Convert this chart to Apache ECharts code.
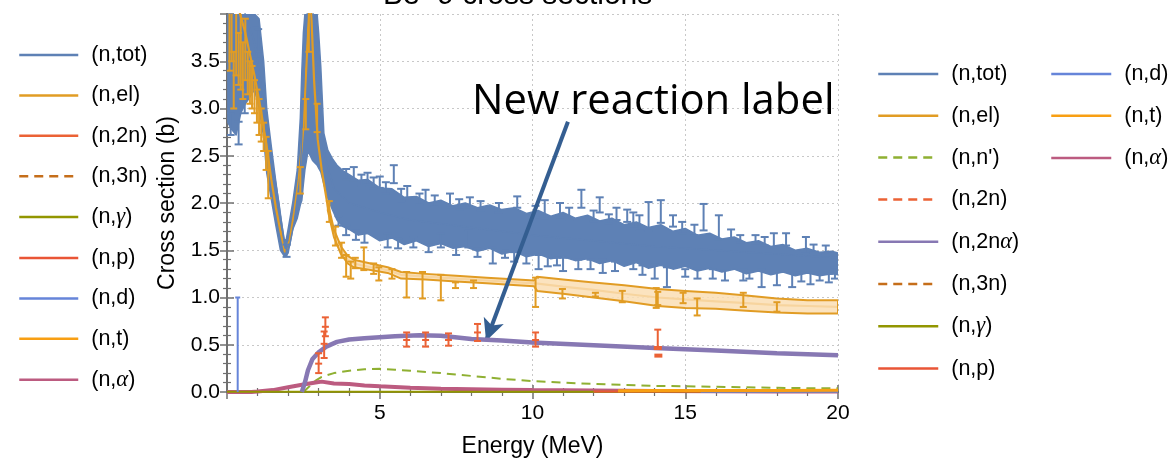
<!DOCTYPE html>
<html><head><meta charset="utf-8">
<script src="https://cdn.jsdelivr.net/npm/echarts@6/dist/echarts.min.js"></script>
<style>html,body{margin:0;padding:0;background:#fff}#c{width:1174px;height:459px}</style>
</head><body><div id="c"></div>
<script>
// ---------------- data ----------------
const xTicks = [0, 5, 10, 15, 20];
const yTicks = [0, 0.5, 1, 1.5, 2, 2.5, 3, 3.5];

// (n,tot) dense experimental cloud envelope
const totBandX  = [0.03,0.15,0.3,0.45,0.6,0.75,0.9,1.05,1.2,1.3,1.45,1.6,1.75,1.87,1.93,2.0,2.15,2.3,2.4,2.45,2.5,2.55,2.65,2.8,2.95,3.0,3.07,3.17,3.3,3.45,3.6,3.8,4.0,4.3,4.6,5.0,5.4,5.8,6.2,6.6,7.0,7.4,7.8,8.2,8.6,9.0,9.4,9.8,10.2,10.6,11.0,11.4,11.8,12.2,12.6,13.0,13.4,13.8,14.2,14.6,15.0,15.4,15.8,16.2,16.6,17.0,17.4,17.8,18.2,18.6,19.0,19.4,19.8,20.0];
const totBandLo = [2.85,2.78,2.72,2.95,3.05,3.12,3.2,3.0,2.7,2.32,2.04,1.76,1.5,1.44,1.44,1.47,1.72,1.84,1.98,2.03,2.2,2.35,2.55,2.45,2.4,2.37,2.33,2.2,2.05,1.93,1.82,1.75,1.72,1.66,1.68,1.6,1.63,1.56,1.6,1.54,1.57,1.52,1.54,1.49,1.52,1.46,1.49,1.43,1.46,1.41,1.43,1.39,1.41,1.36,1.39,1.33,1.37,1.31,1.34,1.3,1.33,1.28,1.31,1.27,1.3,1.25,1.28,1.24,1.27,1.23,1.26,1.23,1.25,1.24];
const totBandHi = [4.0,4.0,4.0,4.0,4.0,4.0,4.0,3.95,3.5,3.0,2.6,2.22,1.86,1.62,1.6,1.72,2.0,2.35,2.9,3.4,3.8,4.0,4.0,4.0,4.0,3.8,3.44,2.74,2.56,2.47,2.4,2.34,2.3,2.24,2.25,2.16,2.15,2.06,2.07,2.0,2.03,1.97,2.0,1.95,1.98,1.93,1.95,1.89,1.92,1.86,1.9,1.84,1.87,1.81,1.84,1.77,1.8,1.74,1.77,1.7,1.73,1.66,1.68,1.62,1.64,1.58,1.6,1.54,1.56,1.5,1.52,1.48,1.49,1.47];
// (n,tot) individual error bars [E, low, high]
const totErr = [[0.12,2.72,2.95],[0.38,2.62,2.86],[0.58,2.95,3.15],[0.95,3.55,3.88],[1.02,3.6,3.84],[1.95,1.43,1.56],
 [3.65,1.76,1.86],[4.15,2.24,2.38],[4.22,1.61,1.71],[4.6,2.2,2.32],[5.0,2.16,2.28],[5.26,1.53,1.68],[5.46,2.21,2.4],
 [5.9,2.05,2.18],[6.1,1.53,1.64],[6.5,2.0,2.14],[7.0,1.53,1.68],[7.3,1.95,2.1],[7.9,1.53,1.71],[7.95,1.95,2.06],
 [8.7,1.36,1.53],[9.1,1.42,1.5],[9.5,1.95,2.07],[9.8,1.36,1.46],[10.5,1.33,1.45],[10.9,1.85,2.0],[11.0,1.28,1.42],
 [11.5,1.3,1.4],[11.6,1.95,2.14],[12.2,1.9,2.06],[12.3,1.26,1.4],[12.75,1.82,1.95],[13.1,1.8,1.93],[13.3,1.3,1.38],
 [13.5,1.71,1.87],[13.8,1.71,2.01],[14.0,1.2,1.35],[14.2,1.79,2.03],[14.4,1.11,1.32],[14.6,1.75,1.87],[15.0,1.22,1.3],
 [15.6,1.71,1.99],[15.9,1.2,1.3],[16.1,1.61,1.87],[16.5,1.62,1.72],[16.9,1.18,1.3],[17.3,1.57,1.66],[17.5,1.11,1.3],
 [17.9,1.53,1.68],[18.0,1.13,1.28],[18.3,1.55,1.68],[18.5,1.11,1.27],[18.95,1.47,1.64],[19.4,1.18,1.27],[19.9,1.2,1.32],
 [3.9,2.25,2.36],[4.4,2.18,2.3],[4.8,2.15,2.27],[5.2,2.1,2.22],[5.7,2.02,2.15],[6.3,1.98,2.1],[6.8,1.96,2.08],
 [7.6,1.93,2.04],[8.3,1.92,2.02],[8.9,1.9,2.0],[10.1,1.85,1.97],[10.4,1.84,2.03],[11.2,1.82,1.95],[12.0,1.8,1.92],
 [12.5,1.78,1.88],[13.3,1.75,1.9],[14.9,1.68,1.8],[15.3,1.66,1.77],[16.8,1.58,1.66],[17.6,1.55,1.64],[19.2,1.48,1.56],
 [19.6,1.46,1.55],[3.9,1.66,1.76],[4.5,1.58,1.68],[5.6,1.52,1.62],[6.6,1.48,1.58],[7.5,1.45,1.55],[8.2,1.43,1.52],
 [9.4,1.38,1.48],[10.2,1.3,1.45],[10.8,1.34,1.42],[11.9,1.3,1.4],[12.7,1.28,1.38],[13.6,1.24,1.34],[15.4,1.2,1.31],
 [16.3,1.18,1.29],[17.1,1.2,1.28],[18.8,1.17,1.26],[19.1,1.14,1.26],[19.7,1.16,1.25]];
// (n,tot) evaluated curve
const totX = [0.02,0.3,0.6,0.9,1.1,1.3,1.5,1.7,1.9,2.05,2.2,2.4,2.55,2.7,2.85,3.0,3.2,3.5,4,5,6,7,8,9,10,11,12,13,14,15,16,17,18,19,20];
const totY = [4.3,4.2,4.0,3.7,3.3,2.75,2.4,2.0,1.52,1.55,1.8,2.3,3.6,4.4,3.9,3.05,2.5,2.15,2.0,1.9,1.82,1.78,1.74,1.7,1.66,1.63,1.6,1.57,1.54,1.52,1.5,1.48,1.46,1.44,1.42];

// (n,el)
const elX = [0.02,0.3,0.6,0.9,1.1,1.3,1.45,1.6,1.75,1.9,2.05,2.2,2.35,2.5,2.62,2.72,2.85,2.97,3.1,3.3,3.5,3.73,3.95,4.15,4.7,5.26,5.7,6.5,7.5,8.5,9.5,10.1,11,12,13,14.1,15,16,17,18,19,20];
const elY = [4.4,4.15,3.8,3.35,3.0,2.6,2.25,1.95,1.7,1.48,1.6,1.9,2.25,2.8,3.6,4.3,3.3,2.67,2.35,1.96,1.68,1.5,1.4,1.36,1.32,1.29,1.24,1.22,1.2,1.18,1.16,1.15,1.115,1.08,1.04,1.0,0.98,0.96,0.94,0.92,0.91,0.9];
const elBandX  = [3.3,3.5,3.73,3.95,4.15,4.7,5.26,5.7,6.5,7.5,8.5,9.5,10.05,10.15,11,12,13,14.1,15,16,17,18,19,20];
const elBandLo = [1.92,1.64,1.46,1.36,1.32,1.29,1.26,1.2,1.19,1.17,1.15,1.13,1.12,1.07,1.04,1.0,0.96,0.91,0.89,0.88,0.86,0.84,0.83,0.83];
const elBandHi = [2.0,1.72,1.54,1.44,1.4,1.36,1.32,1.27,1.25,1.23,1.21,1.19,1.18,1.22,1.19,1.16,1.13,1.09,1.07,1.05,1.02,0.99,0.97,0.97];
const elErr = [[0.15,3.5,4.1],[0.3,3.35,4.1],[0.45,3.2,4.05],[0.6,3.3,3.95],[0.75,3.05,3.5],[0.9,2.95,3.3],[1.05,2.72,3.1],
 [1.2,2.55,2.85],[1.35,2.05,2.55],[2.4,2.1,2.38],[2.58,2.78,3.1],[2.68,3.6,4.1],[2.95,2.75,3.05],[3.35,1.8,2.02],
 [3.55,1.55,1.75],[3.75,1.42,1.58],[3.9,1.22,1.45],[4.05,1.2,1.38],[4.2,1.31,1.42],[4.48,1.29,1.53],[4.8,1.25,1.36],
 [4.97,1.18,1.32],[5.4,1.2,1.3],[5.88,1.0,1.27],[6.4,0.99,1.27],[7.0,0.97,1.24],[7.48,1.1,1.16],[8.07,1.1,1.18],
 [10.1,0.9,1.21],[10.98,0.99,1.09],[12.06,1.01,1.05],[12.94,0.95,1.07],[14.05,0.89,1.1],[14.1,0.92,1.06],
 [14.93,0.94,1.05],[15.39,0.81,0.99],[16.9,0.9,1.05],[18.0,0.85,0.95],
 [0.08,3.4,4.1],[0.22,3.0,3.6],[0.38,3.25,3.8],[0.52,3.1,3.7],[0.68,3.15,3.6],[0.82,3.0,3.45],[0.98,2.85,3.2],
 [1.12,2.65,3.0],[1.28,2.35,2.7]];

// (n,n')
const nnpX = [2.5,2.7,2.9,3.1,3.5,4.0,4.5,5.0,5.5,6,7,8,9,10,11,12,13,14,15,16,17,18,19,20];
const nnpY = [0,0.06,0.12,0.16,0.2,0.225,0.24,0.245,0.235,0.225,0.2,0.17,0.14,0.115,0.1,0.085,0.075,0.065,0.06,0.055,0.05,0.045,0.04,0.04];
// (n,2nα)
const n2naX = [2.45,2.55,2.65,2.8,3.0,3.25,3.6,4.0,4.5,5.0,5.5,6.3,7,8,9,10,12,14,16,18,20];
const n2naY = [0,0.1,0.23,0.35,0.42,0.48,0.53,0.555,0.57,0.58,0.59,0.6,0.595,0.56,0.545,0.525,0.495,0.465,0.44,0.41,0.39];
// (n,α)
const naX = [0,0.8,1.0,1.5,2.0,2.5,2.9,3.1,3.5,4,4.5,5,6,7,8,9,10,12,14,16,18,20];
const naY = [0,0,0.005,0.02,0.05,0.08,0.1,0.11,0.09,0.085,0.07,0.06,0.045,0.035,0.03,0.025,0.02,0.015,0.01,0.008,0.005,0.005];
// (n,2n) experimental [E, low, high, mid]
const n2nErr = [[3.0,0.2,0.41,0.3],[3.18,0.36,0.64,0.51],[3.22,0.59,0.79,0.69],[5.88,0.48,0.63,0.55],[6.5,0.48,0.63,0.55],
 [7.25,0.49,0.62,0.55],[8.2,0.54,0.72,0.63],[10.1,0.48,0.63,0.55],[14.1,0.47,0.66,0.47]];
const n2nPts = [[14.1,0.465],[14.12,0.385]];
// near-zero channels
const ntX = [12.8,14,16,18,20];      const ntY = [0.012,0.015,0.015,0.015,0.018];
const ndX = [15.5,20];               const ndY = [0.006,0.006];
const ngX = [0,20];                  const ngY = [0.002,0.002];
const npX = [12,20];                 const npY = [0.004,0.006];
const ndErr = [[0.35,0,1.0]];
// annotation arrow (data coordinates)
const arrowFrom = [11.16, 2.86];
const arrowTo = [8.48, 0.54];

// ---------------- helpers ----------------
const zip = (xs, ys) => xs.map((x, i) => [x, ys[i]]);
const C = {tot:'#5E81B5', el:'#E19C24', nnp:'#8FB032', n2n:'#EB6235', n2na:'#8778B3', n3n:'#C56E1A',
           ng:'#929600', np:'#E95536', nd:'#6685D9', nt:'#F89F13', na:'#BC5B80'};

function errRender(capW, lw, topOnly) {
  return function (params, api) {
    const x = api.value(0), lo = api.value(1), hi = api.value(2);
    const a = api.coord([x, lo]), b = api.coord([x, hi]);
    const st = {stroke: api.visual('color'), lineWidth: lw};
    const ch = [
      {type:'line', shape:{x1:a[0], y1:a[1], x2:b[0], y2:b[1]}, style:st},
      {type:'line', shape:{x1:b[0]-capW, y1:b[1], x2:b[0]+capW, y2:b[1]}, style:st}
    ];
    if (!topOnly) ch.push({type:'line', shape:{x1:a[0]-capW, y1:a[1], x2:a[0]+capW, y2:a[1]}, style:st});
    const m = api.value(3);
    if (m !== undefined && !isNaN(m)) {
      const c = api.coord([x, m]);
      ch.push({type:'line', shape:{x1:c[0]-capW, y1:c[1], x2:c[0]+capW, y2:c[1]}, style:st});
    }
    return {type:'group', children: ch};
  };
}
function bandRender(xs, los, his, fill, stroke, lw) {
  return function (params, api) {
    if (params.dataIndex !== 0) return null;
    const pts = [];
    for (let i = 0; i < xs.length; i++) pts.push(api.coord([xs[i], his[i]]));
    for (let i = xs.length - 1; i >= 0; i--) pts.push(api.coord([xs[i], los[i]]));
    return {type:'polygon', shape:{points:pts}, style:{fill:fill, stroke:stroke, lineWidth:lw, lineJoin:'round'}};
  };
}
function rectRender(params, api) {
  const p = api.coord([api.value(0), api.value(1)]);
  return {type:'rect', shape:{x:p[0]-4, y:p[1]-2, width:8, height:4}, style:{fill: api.visual('color')}};
}
function lineSeries(name, xs, ys, color, width, type, z) {
  return {type:'line', name:name, data: zip(xs, ys), symbol:'none', showSymbol:false, smooth:false,
          lineStyle:{color:color, width:width, type:type || 'solid'}, itemStyle:{color:color}, z: z || 3,
          emphasis:{disabled:true}};
}

const FONT = 'Liberation Sans';
const axisCol = '#707070';

const legendCommon = {
  orient:'vertical', itemWidth:60, itemHeight:20, itemGap:19.8, selectedMode:false, padding:0,
  lineStyle:{width:2.5}, itemStyle:{opacity:0},
  textStyle:{fontFamily:FONT, fontSize:21.5, color:'#000', lineHeight:20, padding:[0,0,0,8],
    rich:{g:{fontFamily:'Liberation Serif', fontStyle:'italic', fontSize:22.5, color:'#000', lineHeight:20}}},
  formatter: n => n.replace(/([αγ])/g, '{g|$1}')
};

const option = {
  animation:false,
  backgroundColor:'#fff',
  grid:{left:227, top:14, width:611, height:378, show:false, containLabel:false, outerBoundsMode:'none'},
  xAxis:[
    {type:'value', min:xTicks[0], max:xTicks[xTicks.length-1], interval:xTicks[1]-xTicks[0], position:'bottom',
     name:'Energy (MeV)', nameLocation:'middle', nameGap:43,
     nameTextStyle:{fontFamily:FONT, fontSize:23, color:'#000'},
     axisLine:{show:true, lineStyle:{color:axisCol, width:2}},
     axisTick:{show:true, inside:true, length:7, lineStyle:{color:axisCol, width:1.5}},
     minorTick:{show:true, splitNumber:5, length:4, lineStyle:{color:axisCol, width:1.2}},
     axisLabel:{fontFamily:FONT, fontSize:21, color:'#000', margin:11, showMinLabel:false},
     splitLine:{show:true, lineStyle:{color:'#c8c8c8', width:1, type:[2,3]}}},
    {type:'value', min:xTicks[0], max:xTicks[xTicks.length-1], interval:xTicks[1]-xTicks[0], position:'top',
     axisLine:{show:true, lineStyle:{color:axisCol, width:2}},
     axisTick:{show:true, inside:true, length:7, lineStyle:{color:axisCol, width:1.5}},
     minorTick:{show:true, splitNumber:5, length:4, lineStyle:{color:axisCol, width:1.2}},
     axisLabel:{show:false}, splitLine:{show:false}}
  ],
  yAxis:[
    {type:'value', min:0, max:4, interval:yTicks[1]-yTicks[0], position:'left',
     name:'Cross section (b)', nameLocation:'middle', nameGap:48,
     nameTextStyle:{fontFamily:FONT, fontSize:23, color:'#000'},
     axisLine:{show:true, lineStyle:{color:axisCol, width:2}},
     axisTick:{show:true, inside:true, length:7, lineStyle:{color:axisCol, width:1.5}},
     minorTick:{show:true, splitNumber:5, length:4, lineStyle:{color:axisCol, width:1.2}},
     axisLabel:{fontFamily:FONT, fontSize:21, color:'#000', margin:7, showMaxLabel:false,
                formatter: v => v.toFixed(1)},
     splitLine:{show:true, lineStyle:{color:'#c8c8c8', width:1, type:[2,3]}}},
    {type:'value', min:0, max:4, interval:yTicks[1]-yTicks[0], position:'right',
     axisLine:{show:true, lineStyle:{color:axisCol, width:2}},
     axisTick:{show:true, inside:true, length:7, lineStyle:{color:axisCol, width:1.5}},
     minorTick:{show:true, splitNumber:5, length:4, lineStyle:{color:axisCol, width:1.2}},
     axisLabel:{show:false}, splitLine:{show:false}}
  ],
  legend:[
    Object.assign({}, legendCommon, {left:18, top:44, itemWidth:59, itemGap:18.4,
      data:['(n,tot)','(n,el)',{name:'(n,2n)', lineStyle:{type:'solid', width:2.5}},'(n,3n)','(n,γ)','(n,p)','(n,d)','(n,t)','(n,α)']}),
    Object.assign({}, legendCommon, {left:877, top:63,
      data:['(n,tot)','(n,el)',"(n,n')",'(n,2n)','(n,2nα)','(n,3n)','(n,γ)','(n,p)']}),
    Object.assign({}, legendCommon, {left:1050, top:63,
      data:['(n,d)','(n,t)','(n,α)']})
  ],
  graphic:[
    {type:'text', x:383, y:-4, silent:true,
     style:{text:'Be\u22129 cross sections', font:'30px "Liberation Sans"', fill:'#000', verticalAlign:'middle', align:'left'}},
    {type:'text', x:472, y:102, silent:true, z:100,
     style:{text:'New reaction label', font:'41.8px "Open Sans"', fill:'#000', verticalAlign:'middle', align:'left'}}
  ],
  series:[
    lineSeries('(n,el)', elX, elY, C.el, 2.2, 'solid', 1),
    {type:'custom', name:'tot band', clip:true, z:1, data: zip(totBandX, totBandLo),
     renderItem: bandRender(totBandX, totBandLo, totBandHi, C.tot, C.tot, 1.5), silent:true},
    {type:'custom', name:'tot exp', clip:true, z:2, data: totErr, itemStyle:{color:C.tot},
     encode:{x:0, y:[1,2]}, renderItem: errRender(4, 2), silent:true},
    lineSeries('(n,tot)', totX, totY, C.tot, 1.5, 'solid', 2),
    {type:'custom', name:'el band', clip:true, z:3, data: zip(elBandX, elBandLo),
     renderItem: bandRender(elBandX, elBandLo, elBandHi, 'rgba(250,222,180,0.85)', C.el, 2), silent:true},
    {type:'custom', name:'el exp', clip:true, z:4, data: elErr, itemStyle:{color:C.el},
     encode:{x:0, y:[1,2]}, renderItem: errRender(3.5, 2), silent:true},
    lineSeries("(n,n')", nnpX, nnpY, C.nnp, 2, [9,6], 5),
    lineSeries('(n,α)', naX, naY, C.na, 4, 'solid', 5),
    Object.assign(lineSeries('(n,2nα)', n2naX, n2naY, C.n2na, 4.5, 'solid', 6), {
      markLine:{silent:true, symbol:['none','arrow'], symbolSize:[16,22], label:{show:false},
        lineStyle:{color:'#345E91', width:4, type:'solid'}, emphasis:{disabled:true},
        data:[[{coord:arrowFrom}, {coord:arrowTo}]]}
    }),
    {type:'custom', name:'2n exp', clip:true, z:7, data: n2nErr, itemStyle:{color:C.n2n},
     encode:{x:0, y:[1,2]}, renderItem: errRender(3.5, 2), silent:true},
    {type:'custom', name:'2n pts', clip:true, z:7, data: n2nPts, itemStyle:{color:C.n2n},
     encode:{x:0, y:1}, renderItem: rectRender, silent:true},
    lineSeries('(n,2n)', [], [], C.n2n, 2, [9,6], 5),
    lineSeries('(n,3n)', [], [], C.n3n, 2, [9,6], 5),
    lineSeries('(n,γ)', ngX, ngY, C.ng, 2, 'solid', 5),
    lineSeries('(n,p)', npX, npY, C.np, 2, 'solid', 5),
    lineSeries('(n,d)', ndX, ndY, C.nd, 2.5, 'solid', 6),
    {type:'custom', name:'d exp', clip:true, z:6, data: ndErr, itemStyle:{color:C.nd},
     encode:{x:0, y:[1,2]}, renderItem: errRender(2.5, 2, true), silent:true},
    lineSeries('(n,t)', ntX, ntY, C.nt, 3, 'solid', 6)
  ]
};
const chart = echarts.init(document.getElementById('c'), null, {renderer:'canvas'});
chart.setOption(option);
</script></body></html>
